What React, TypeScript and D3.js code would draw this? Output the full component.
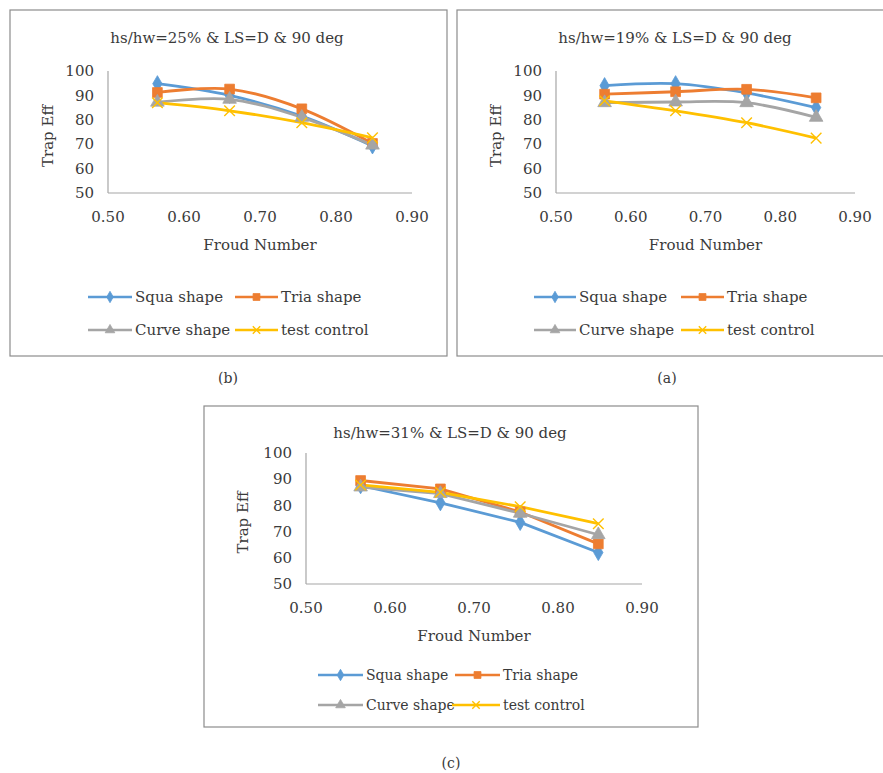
import React, { Component } from 'react';
import * as d3 from 'd3';

// froude numbers of the four runs (same in all three charts)
const froud = [0.565, 0.66, 0.755, 0.848];
const xTicks = [0.5, 0.6, 0.7, 0.8, 0.9];
const yTicks = [50, 60, 70, 80, 90, 100];
const seriesNames = ['Squa shape', 'Tria shape', 'Curve shape', 'test control'];

// (a) hs/hw = 19%
const squa19 = [94, 94.8, 91, 85];
const tria19 = [90.5, 91.5, 92.5, 89];
const curve19 = [87, 87.3, 87, 81];
const test19 = [87.8, 83.7, 78.8, 72.5];

// (b) hs/hw = 25%
const squa25 = [94.8, 90, 81.5, 69.3];
const tria25 = [91.2, 92.6, 84.5, 70.3];
const curve25 = [87.2, 88.4, 81, 69.6];
const test25 = [87, 83.7, 78.8, 72.6];

// (c) hs/hw = 31%
const squa31 = [87.5, 81, 73.5, 62];
const tria31 = [89.5, 86.3, 77.5, 65.3];
const curve31 = [87, 84.5, 77, 68.8];
const test31 = [87.8, 85, 79.5, 73];

const colors = ['#5B9BD5', '#ED7D31', '#A5A5A5', '#FFC000'];
const shapes = [d3.symbolDiamond, d3.symbolSquare, d3.symbolTriangle, d3.symbolX];
const font = '"DejaVu Serif", "Liberation Serif", serif';
const textColor = '#3a3a3a';

class Marker extends Component<any> {
    render() {
        let i = this.props.index
        let s = this.props.small ? 0.5 : 1
        let sizes = [75, 95, 80, 75]
        let path = d3.symbol().type(shapes[i] as any).size(sizes[i] * s)() as string
        if (i === 3) {
            return <path d={path} transform={`translate(${this.props.x},${this.props.y})`} fill="none" stroke={colors[i]} strokeWidth={1.4} />
        }
        return <path d={path} transform={`translate(${this.props.x},${this.props.y})`} fill={colors[i]} stroke={colors[i]} strokeWidth={0.8} />
    }
}

class Panel extends Component<any> {
    render() {
        let p = this.props
        let x = d3.scaleLinear().domain([0.5, 0.9]).range([p.left, p.right])
        let y = d3.scaleLinear().domain([50, 100]).range([p.bottom, p.top])
        let line = d3.line<number>()
            .x((d, i) => x(froud[i]))
            .y((d) => y(d))
            .curve(p.smooth ? d3.curveCardinal.tension(0) : d3.curveLinear)

        let txt = { fontFamily: font, fill: textColor }

        let legend: any[] = []
        p.series.forEach((s: number[], i: number) => {
            let row = Math.floor(i / 2)
            let col = p.legendCols[i]
            let ly = p.legendRows[row]
            legend.push(
                <g key={i}>
                    <line x1={col[0]} x2={col[1]} y1={ly} y2={ly} stroke={colors[i]} strokeWidth={2.5} />
                    <Marker index={i} x={(col[0] + col[1]) / 2} y={ly} small={true} />
                    <text x={col[1] + 3} y={ly} dy="0.35em" fontSize={p.legendSize} style={txt}>{seriesNames[i]}</text>
                </g>
            )
        })

        return (
            <g>
                <rect x={p.box[0]} y={p.box[1]} width={p.box[2] - p.box[0]} height={p.box[3] - p.box[1]} fill="white" stroke="#8c8c8c" strokeWidth={1.2} />
                <text x={p.titleX} y={p.titleY} dy="0.35em" textAnchor="middle" fontSize={15} style={txt}>{p.title}</text>

                {/* axes */}
                <line x1={p.left} x2={p.left} y1={p.top} y2={p.bottom} stroke="#a6a6a6" strokeWidth={1.2} />
                <line x1={p.left} x2={p.right} y1={p.bottom} y2={p.bottom} stroke="#a6a6a6" strokeWidth={1.2} />
                {yTicks.map((t) => (
                    <text key={t} x={p.left - 14} y={y(t)} dy="0.35em" textAnchor="end" fontSize={15} style={txt}>{t}</text>
                ))}
                {xTicks.map((t) => (
                    <text key={t} x={x(t)} y={p.bottom + 24} dy="0.35em" textAnchor="middle" fontSize={15} style={txt}>{d3.format('.2f')(t)}</text>
                ))}
                <text x={(p.left + p.right) / 2} y={p.bottom + 52} dy="0.35em" textAnchor="middle" fontSize={15} style={txt}>Froud Number</text>
                <text transform={`translate(${p.left - p.yTitleOff},${(p.top + p.bottom) / 2 + 4}) rotate(-90)`} dy="0.35em" textAnchor="middle" fontSize={15} style={txt}>Trap Eff</text>

                {/* series */}
                {p.series.map((s: number[], i: number) => (
                    <path key={i} d={line(s) as string} fill="none" stroke={colors[i]} strokeWidth={2.8} strokeLinejoin="round" />
                ))}
                {p.series.map((s: number[], i: number) => (
                    <g key={'m' + i}>
                        {s.map((v, j) => <Marker key={j} index={i} x={x(froud[j])} y={y(v)} />)}
                    </g>
                ))}

                {legend}
                <text x={p.capX} y={p.capY} dy="0.35em" textAnchor="middle" fontSize={14} style={txt}>{p.caption}</text>
            </g>
        )
    }
}

export default class App extends Component {
    render() {
        return (
            <svg width={883} height={773} style={{ position: 'absolute', left: 0, top: 0, background: 'white' }}>
                <rect x={0} y={0} width={883} height={773} fill="white" />
                <Panel
                    box={[10, 10, 447, 356]}
                    left={108} right={412} top={71} bottom={193}
                    title="hs/hw=25% & LS=D & 90 deg" titleX={227} titleY={38}
                    series={[squa25, tria25, curve25, test25]} smooth={true}
                    yTitleOff={60}
                    legendRows={[297, 330]} legendCols={[[88, 132], [235, 278], [88, 132], [235, 278]]} legendSize={15}
                    caption="(b)" capX={228} capY={378}
                />
                <Panel
                    box={[457, 10, 890, 356]}
                    left={556} right={855} top={71} bottom={193}
                    title="hs/hw=19% & LS=D & 90 deg" titleX={675} titleY={38}
                    series={[squa19, tria19, curve19, test19]} smooth={true}
                    yTitleOff={60}
                    legendRows={[297, 330]} legendCols={[[534, 576], [681, 724], [534, 576], [681, 724]]} legendSize={15}
                    caption="(a)" capX={667} capY={378}
                />
                <Panel
                    box={[204, 406, 698, 727]}
                    left={306} right={642} top={453} bottom={584}
                    title="hs/hw=31% & LS=D & 90 deg" titleX={450} titleY={433}
                    series={[squa31, tria31, curve31, test31]} smooth={false}
                    yTitleOff={63}
                    legendRows={[675, 705]} legendCols={[[318, 363], [455, 500], [318, 363], [452, 500]]} legendSize={14}
                    caption="(c)" capX={451} capY={763}
                />
            </svg>
        )
    }
}
